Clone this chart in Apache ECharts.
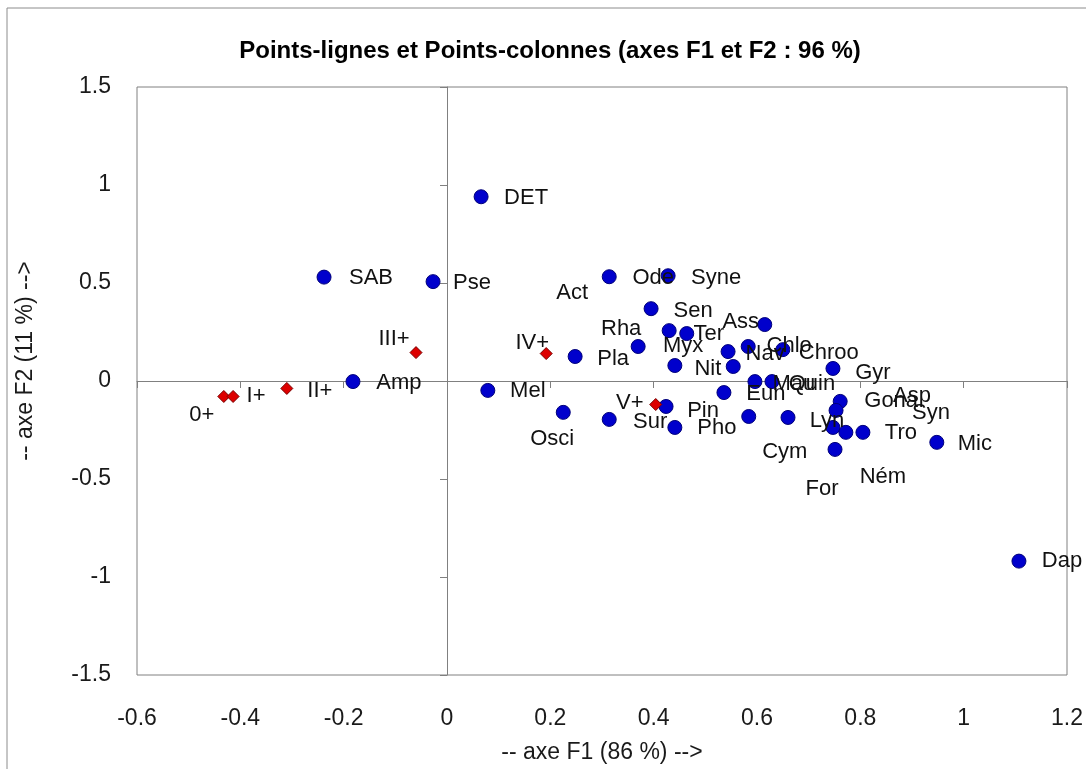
<!DOCTYPE html>
<html>
<head>
<meta charset="utf-8">
<script src="https://cdn.jsdelivr.net/npm/echarts@6/dist/echarts.min.js"></script>
<style>
html,body{margin:0;padding:0;background:#fff;}
#chart{width:1086px;height:769px;}
</style>
</head>
<body>
<div id="chart"></div>
<script>
// ---- Data ----
const titleText = 'Points-lignes et Points-colonnes (axes F1 et F2 : 96 %)';
const xAxisTitle = '-- axe F1 (86 %) -->';
const yAxisTitle = '-- axe F2 (11 %) -->';

// column points (blue)
const colNames = ['DET','SAB','Pse','Amp','Mel','Osci','Sur','Pla','Ode','Syne','Sen','Rha','Ter','Myx','Nit',
  'Ass','Nav','Chlo','Chroo','Gyr','Act','Eun','Mau','Quin','Pin','Pho','Cym','Lyn','Gona','Asp','Syn','Ném','Tro','For','Mic','Dap'];
const colF1 = [0.066,-0.238,-0.027,-0.182,0.079,0.225,0.314,0.248,0.314,0.428,0.395,0.430,0.464,0.370,0.441,
  0.615,0.544,0.583,0.650,0.747,0.554,0.536,0.596,0.629,0.424,0.441,0.584,0.660,0.761,0.753,0.747,0.772,0.805,0.751,0.948,1.107];
const colF2 = [0.940,0.530,0.507,-0.003,-0.048,-0.160,-0.196,0.125,0.532,0.537,0.369,0.257,0.242,0.176,0.079,
  0.288,0.150,0.176,0.160,0.064,0.074,-0.059,-0.003,-0.003,-0.130,-0.237,-0.181,-0.186,-0.104,-0.150,-0.237,-0.262,-0.262,-0.349,-0.313,-0.919];

// row points (red)
const rowNames = ['0+','I+','II+','III+','IV+','V+'];
const rowF1 = [-0.432,-0.414,-0.310,-0.060,0.192,0.404];
const rowF2 = [-0.079,-0.079,-0.038,0.145,0.140,-0.120];

// axis ticks
const xMin = -0.6, xMax = 1.2, xStep = 0.2;
const yMin = -1.5, yMax = 1.5, yStep = 0.5;

// ---- Label placement (style: offset of label centre from point, px) ----
const labelOffsets = {
  'DET':[45,1],'SAB':[47,1],'Pse':[39,1],'Amp':[46,1],'Mel':[40,1],'Osci':[-11,27],'Sur':[41,3],'Pla':[38,2],
  'Ode':[44,1],'Syne':[48,2],'Sen':[42,2],'Rha':[-48,-2],'Ter':[22,0],'Myx':[45,-1],'Nit':[33,3],
  'Ass':[-24,-3],'Nav':[37,2],'Chlo':[41,-1],'Chroo':[46,3],'Gyr':[40,4],'Act':[-161,-74],'Eun':[42,1],
  'Mau':[39,2],'Quin':[40,2],'Pin':[37,4],'Pho':[42,0],'Cym':[36,35],'Lyn':[39,3],'Gona':[51,0],'Asp':[76,-14],
  'Syn':[98,-15],'Ném':[37,45],'Tro':[38,1],'For':[-13,40],'Mic':[38,2],'Dap':[43,0],
  '0+':[-22,18],'I+':[23,-1],'II+':[33,2],'III+':[-22,-14],'IV+':[-14,-11],'V+':[-26,-2]
};

const FONT = "'Liberation Sans', Arial, sans-serif";

function buildData(names, xs, ys) {
  return names.map((n, i) => ({
    name: n,
    value: [xs[i], ys[i]],
    label: { offset: labelOffsets[n] || [35, 0] }
  }));
}

const chart = echarts.init(document.getElementById('chart'), null, {renderer: 'canvas'});

const commonLabel = {
  show: true,
  position: 'inside',
  formatter: p => p.name,
  color: '#111',
  fontSize: 22,
  fontFamily: FONT,
  align: 'center',
  verticalAlign: 'middle'
};

const option = {
  backgroundColor: '#ffffff',
  animation: false,
  title: {
    text: titleText,
    left: 545,
    top: 34,
    textAlign: 'center',
    textStyle: { fontSize: 24, fontWeight: 'bold', color: '#000', fontFamily: FONT }
  },
  graphic: [
    { type: 'rect', shape: { x: 7, y: 8, width: 1120, height: 800 }, style: { fill: null, stroke: '#8c8c8c', lineWidth: 1 }, silent: true, z: -10 }
  ],
  grid: { left: 137, right: 19, top: 87, bottom: 93, show: true, borderColor: '#808080', borderWidth: 1, backgroundColor: 'transparent' },
  xAxis: [
    {
      type: 'value', min: xMin, max: xMax, interval: xStep, position: 'bottom',
      axisLine: { show: false, onZero: false }, axisTick: { show: false }, splitLine: { show: false },
      axisLabel: { fontSize: 23, color: '#1a1a1a', margin: 32, fontFamily: FONT },
      name: xAxisTitle, nameLocation: 'middle', nameGap: 66,
      nameTextStyle: { fontSize: 23, color: '#1a1a1a', fontFamily: FONT }
    },
    {
      type: 'value', min: xMin, max: xMax, interval: xStep, position: 'bottom',
      axisLine: { show: true, onZero: true, lineStyle: { color: '#808080', width: 1 } },
      axisTick: { show: true, length: 7, lineStyle: { color: '#808080' } },
      axisLabel: { show: false }, splitLine: { show: false }
    }
  ],
  yAxis: [
    {
      type: 'value', min: yMin, max: yMax, interval: yStep, position: 'left',
      axisLine: { show: false, onZero: false }, axisTick: { show: false }, splitLine: { show: false },
      axisLabel: { fontSize: 23, color: '#1a1a1a', margin: 26, fontFamily: FONT },
      name: yAxisTitle, nameLocation: 'middle', nameGap: 100, nameRotate: 90,
      nameTextStyle: { fontSize: 23, color: '#1a1a1a', fontFamily: FONT, padding: [0, 0, 0, 40] }
    },
    {
      type: 'value', min: yMin, max: yMax, interval: yStep, position: 'left',
      axisLine: { show: true, onZero: true, lineStyle: { color: '#808080', width: 1 } },
      axisTick: { show: true, length: 7, lineStyle: { color: '#808080' } },
      axisLabel: { show: false }, splitLine: { show: false }
    }
  ],
  series: [
    {
      name: 'Colonnes', type: 'scatter', xAxisIndex: 0, yAxisIndex: 0,
      symbol: 'circle', symbolSize: 14,
      itemStyle: { color: '#0000cc', borderColor: '#00007a', borderWidth: 1, opacity: 1 },
      label: commonLabel,
      data: buildData(colNames, colF1, colF2),
      z: 3
    },
    {
      name: 'Lignes', type: 'scatter', xAxisIndex: 0, yAxisIndex: 0,
      symbol: 'diamond', symbolSize: [12, 12],
      itemStyle: { color: '#dd0000', borderColor: '#7a0000', borderWidth: 1, opacity: 1 },
      label: commonLabel,
      data: buildData(rowNames, rowF1, rowF2),
      z: 4
    }
  ]
};

chart.setOption(option);
</script>
</body>
</html>
